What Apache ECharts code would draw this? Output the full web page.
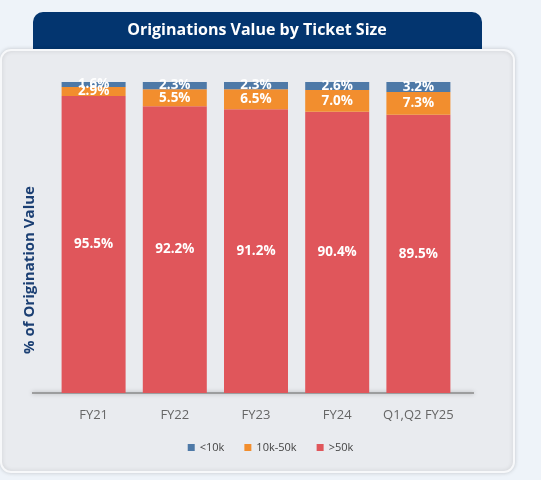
<!DOCTYPE html>
<html><head><meta charset="utf-8">
<script src="https://cdn.jsdelivr.net/npm/echarts@6/dist/echarts.min.js"></script>
<style>html,body{margin:0;padding:0;background:#eef3f9;}#c{width:541px;height:480px;}</style>
</head><body><div id="c"></div>
<script>
const categories = ['FY21','FY22','FY23','FY24','Q1,Q2 FY25'];
const under10k = [1.6, 2.3, 2.3, 2.6, 3.2];
const mid10k50k = [2.9, 5.5, 6.5, 7.0, 7.3];
const over50k = [95.5, 92.2, 91.2, 90.4, 89.5];
const seriesNames = ['<10k','10k-50k','>50k'];
const yAxisTitle = '% of Origination Value';

const chart = echarts.init(document.getElementById('c'));
const lbl = {show:true, color:'#ffffff', fontWeight:'bold', fontSize:13.5, fontFamily:'Open Sans',
  formatter: p => p.value.toFixed(1) + '%'};
chart.setOption({
  backgroundColor:'#eef3f9',
  animation:false,
  graphic:[
    {type:'rect', shape:{x:33,y:12,width:449,height:50,r:[10,10,0,0]}, style:{fill:'#03356f'}, z:-20},
    {type:'rect', shape:{x:1,y:50,width:513,height:422,r:10}, style:{fill:'#e9ebef', stroke:'#f7f8fa', lineWidth:2, shadowBlur:4, shadowColor:'rgba(0,0,0,0.15)'}, z:-19},
    {type:'text', x:257, y:30, style:{text:'Originations Value by Ticket Size', fill:'#ffffff', font:'bold 16px "Open Sans"', align:'center', verticalAlign:'middle'}, z:-18},
    {type:'line', shape:{x1:32,y1:393,x2:474,y2:393}, style:{stroke:'#8a8a8a', lineWidth:1.5, shadowBlur:4, shadowColor:'rgba(0,0,0,0.35)'}, z:-17},
    {type:'text', x:30, y:270, rotation:Math.PI/2, style:{text:yAxisTitle, fill:'#1b3f73', font:'bold 15px "Open Sans"', align:'center', verticalAlign:'middle'}, z:10}
  ],
  grid:{left:53, width:406, top:82, height:311},
  legend:{bottom:22, left:'center', itemWidth:7, itemHeight:7, itemGap:20, icon:'rect', z:10,
    textStyle:{fontSize:11, color:'#444', fontFamily:'Open Sans'}, data:seriesNames},
  xAxis:{type:'category', data:categories, z:10, axisLine:{show:false}, axisTick:{show:false},
    axisLabel:{color:'#666', fontSize:13, fontFamily:'Open Sans', margin:16, interval:0}},
  yAxis:{type:'value', min:0, max:100, z:10, axisLabel:{show:false}, splitLine:{show:false},
    axisLine:{show:false}, axisTick:{show:false}},
  series:[
    {name:'>50k', type:'bar', stack:'a', data:over50k, barWidth:64, itemStyle:{color:'#e0565b'}, label:Object.assign({position:'inside'}, lbl), z:4},
    {name:'10k-50k', type:'bar', stack:'a', data:mid10k50k, itemStyle:{color:'#f28e2e'}, label:Object.assign({position:'inside'}, lbl), z:4},
    {name:'<10k', type:'bar', stack:'a', data:under10k, itemStyle:{color:'#4e79a7'}, label:Object.assign({position:'inside'}, lbl), z:4}
  ]
});
</script></body></html>
